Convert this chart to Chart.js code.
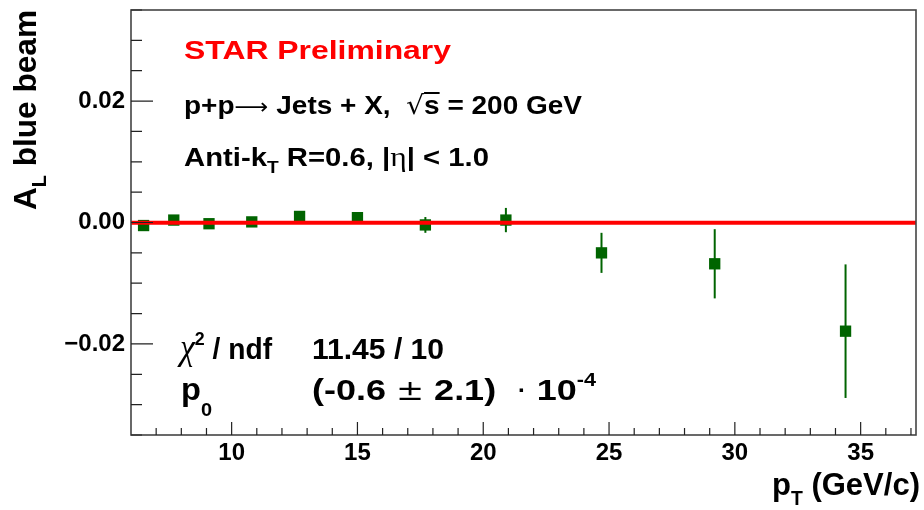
<!DOCTYPE html>
<html>
<head>
<meta charset="utf-8">
<script src="https://cdn.jsdelivr.net/npm/chart.js@4"></script>
<style>
  html, body { margin: 0; padding: 0; background: #fff; }
</style>
</head>
<body>
<canvas id="alChart" width="924" height="510"></canvas>
<script>
// jet pT bin centres (GeV/c), A_L (blue beam) and statistical errors
const ptBins   = [6.5, 7.7, 9.1, 10.8, 12.7, 15.0, 17.7, 20.9, 24.7, 29.2, 34.4];
const alValues = [-0.0005, 0.0004, -0.0002, 0.0001, 0.0010, 0.0008, -0.0004, 0.0004, -0.0050, -0.0068, -0.0179];
const alErrors = [0.0004, 0.0004, 0.0005, 0.0006, 0.0007, 0.0009, 0.0013, 0.0020, 0.0033, 0.0057, 0.0110];

// constant fit, p0 = (-0.6 +- 2.1) 1e-4
const fitP0 = -0.00006;

const xRange = [6, 37.2];
const yRange = [-0.035, 0.035];
const xMajorTicks = [10, 15, 20, 25, 30, 35];
const yMajorTicks = [-0.02, 0, 0.02];
const yTickLabels = ['\u22120.02', '0.00', '0.02'];
const xMinorStep = 1;
const yMinorStep = 0.005;

const green = '#006400';
const B = s => `bold ${s}px "Liberation Sans", Arial, sans-serif`;
const N = s => `${s}px "DejaVu Sans", sans-serif`;
const G = s => `${s}px "Liberation Serif", serif`;

function stepTicks(min, max, step) {
  const out = [];
  for (let v = Math.ceil(min / step - 1e-9) * step; v <= max + 1e-9; v += step) {
    out.push({ value: Math.round(v * 1e6) / 1e6 });
  }
  return out;
}

const near = (a, b) => Math.abs(a - b) < 1e-9;

function noPadding(s) {
  s.paddingLeft = s.paddingRight = s.paddingTop = s.paddingBottom = 0;
}

// draws a line of mixed-font runs, squeezed/stretched to the given width
function drawRuns(ctx, runs, o) {
  let total = 0;
  for (const r of runs) { ctx.font = r.font; r.w = ctx.measureText(r.t).width; total += r.w; }
  const sx = o.width ? o.width / total : 1;
  ctx.save();
  ctx.translate(o.x, o.y);
  if (o.rotate) ctx.rotate(o.rotate);
  ctx.scale(sx, 1);
  ctx.textAlign = 'left';
  ctx.textBaseline = 'alphabetic';
  let cx = o.align === 'right' ? -total : 0;
  for (const r of runs) {
    ctx.font = r.font;
    ctx.fillStyle = r.color || o.color || '#000';
    ctx.fillText(r.t, cx, r.dy || 0);
    if (r.over !== undefined) ctx.fillRect(cx, r.over, r.w, 2);
    cx += r.w;
  }
  ctx.restore();
}

const errorBars = {
  id: 'errorBars',
  beforeDatasetsDraw(chart) {
    const { ctx, scales: { x, y } } = chart;
    ctx.save();
    ctx.strokeStyle = green;
    ctx.lineWidth = 2;
    ptBins.forEach((pt, i) => {
      const px = x.getPixelForValue(pt);
      ctx.beginPath();
      ctx.moveTo(px, y.getPixelForValue(alValues[i] - alErrors[i]));
      ctx.lineTo(px, y.getPixelForValue(alValues[i] + alErrors[i]));
      ctx.stroke();
    });
    ctx.restore();
  }
};

const frameAndTicks = {
  id: 'frameAndTicks',
  afterDraw(chart) {
    const { ctx, chartArea: a, scales: { x, y } } = chart;
    ctx.save();
    ctx.strokeStyle = '#444';
    ctx.lineWidth = 1.6;
    ctx.strokeRect(a.left, a.top, a.right - a.left, a.bottom - a.top);
    ctx.lineWidth = 1.2;
    ctx.strokeStyle = '#222';
    ctx.beginPath();
    x.ticks.forEach(t => {
      const px = x.getPixelForValue(t.value);
      const len = xMajorTicks.some(m => near(m, t.value)) ? 13 : 7;
      ctx.moveTo(px, a.bottom);
      ctx.lineTo(px, a.bottom - len);
    });
    y.ticks.forEach(t => {
      const py = y.getPixelForValue(t.value);
      const len = yMajorTicks.some(m => near(m, t.value)) ? 22 : 11;
      ctx.moveTo(a.left, py);
      ctx.lineTo(a.left + len, py);
    });
    ctx.stroke();
    ctx.restore();
  }
};

const labels = {
  id: 'labels',
  afterDraw(chart) {
    const ctx = chart.ctx;
    // axis titles
    drawRuns(ctx, [
      { t: 'A', font: B(32) },
      { t: 'L', font: B(20), dy: 10 },
      { t: ' blue beam', font: B(32) }
    ], { x: 36, y: 210, rotate: -Math.PI / 2, width: 200 });
    drawRuns(ctx, [
      { t: 'p', font: B(32) },
      { t: 'T', font: B(20), dy: 10 },
      { t: ' (GeV/c)', font: B(32) }
    ], { x: 920, y: 495, align: 'right', width: 148 });

    drawRuns(ctx, [{ t: 'STAR Preliminary', font: B(26) }],
      { x: 184, y: 59, width: 267, color: '#ff0000' });
    drawRuns(ctx, [
      { t: 'p+p', font: B(26) },
      { t: '\u27F6', font: N(22) },
      { t: ' Jets + X,  ', font: B(26) },
      { t: '\u221A', font: N(26) },
      { t: 's', font: B(26), over: -22 },
      { t: ' = 200 GeV', font: B(26) }
    ], { x: 184, y: 114, width: 398 });
    drawRuns(ctx, [
      { t: 'Anti-k', font: B(26) },
      { t: 'T', font: B(17), dy: 7 },
      { t: ' R=0.6, |', font: B(26) },
      { t: '\u03B7', font: G(28) },
      { t: '| < 1.0', font: B(26) }
    ], { x: 184, y: 166, width: 305 });

    // fit summary
    drawRuns(ctx, [
      { t: '\u03C7', font: 'italic ' + G(36) },
      { t: '2', font: B(19), dy: -14 },
      { t: ' / ndf', font: B(30) }
    ], { x: 180, y: 359, width: 92 });
    drawRuns(ctx, [{ t: '11.45 / 10', font: B(30) }], { x: 312, y: 359, width: 132 });
    drawRuns(ctx, [
      { t: 'p', font: B(31) },
      { t: '0', font: B(19), dy: 16 }
    ], { x: 181, y: 400, width: 31 });
    drawRuns(ctx, [
      { t: '(-0.6 ', font: B(30) },
      { t: '\u00B1', font: N(28) },
      { t: ' 2.1)  ', font: B(30) },
      { t: '\u00B7', font: N(28) },
      { t: ' 10', font: B(30) },
      { t: '-4', font: B(18), dy: -14 }
    ], { x: 312, y: 400, width: 284 });
  }
};

new Chart(document.getElementById('alChart'), {
  type: 'scatter',
  data: {
    datasets: [
      {
        label: 'p0',
        data: [{ x: xRange[0], y: fitP0 }, { x: xRange[1], y: fitP0 }],
        showLine: true,
        borderColor: '#ff0000',
        borderWidth: 4,
        pointRadius: 0,
        order: 0
      },
      {
        label: 'A_L',
        data: ptBins.map((pt, i) => ({ x: pt, y: alValues[i] })),
        pointStyle: 'rect',
        pointRadius: 8,
        backgroundColor: green,
        borderColor: green,
        borderWidth: 0,
        order: 1
      }
    ]
  },
  options: {
    responsive: false,
    animation: false,
    layout: { padding: { top: 10, right: 4, left: 0, bottom: 0 } },
    plugins: { legend: { display: false }, tooltip: { enabled: false } },
    scales: {
      x: {
        type: 'linear',
        min: xRange[0],
        max: xRange[1],
        afterBuildTicks: s => { s.ticks = stepTicks(xRange[0] + 1e-6, xRange[1], xMinorStep); },
        afterFit: s => { s.height = 75; noPadding(s); },
        grid: { display: false, drawTicks: false },
        border: { display: false },
        ticks: {
          autoSkip: false,
          maxRotation: 0,
          padding: 4,
          color: '#000',
          font: { family: '"Liberation Sans", Arial, sans-serif', size: 24, weight: 'bold' },
          callback: v => xMajorTicks.some(m => near(m, v)) ? String(v) : ''
        }
      },
      y: {
        type: 'linear',
        min: yRange[0],
        max: yRange[1],
        afterBuildTicks: s => { s.ticks = stepTicks(yRange[0], yRange[1], yMinorStep); },
        afterFit: s => { s.width = 131; noPadding(s); },
        grid: { display: false, drawTicks: false },
        border: { display: false },
        ticks: {
          autoSkip: false,
          padding: 6,
          color: '#000',
          font: { family: '"Liberation Sans", Arial, sans-serif', size: 24, weight: 'bold' },
          callback: v => {
            const k = yMajorTicks.findIndex(m => near(m, v));
            return k >= 0 ? yTickLabels[k] : '';
          }
        }
      }
    }
  },
  plugins: [errorBars, frameAndTicks, labels]
});
</script>
</body>
</html>
